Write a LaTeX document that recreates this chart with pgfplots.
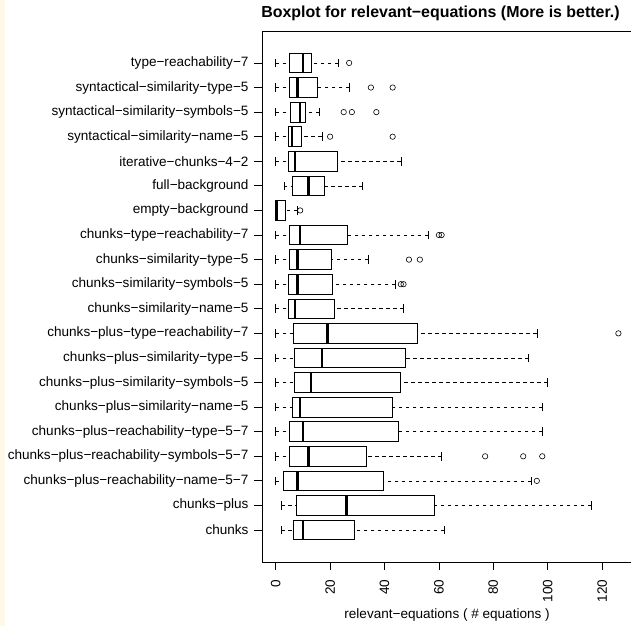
\documentclass[border=0pt]{standalone}
\usepackage{fontspec}
\setmainfont{Liberation Sans}
\usepackage{pgfplots}
\pgfplotsset{compat=1.18}
\usepgfplotslibrary{statistics}
\definecolor{cream}{RGB}{255,248,231}
\pgfplotsset{
  boxplot/draw/lower whisker/.code={%
    \draw[draw=black, line width=0.6bp, dash pattern=on 3.5bp off 3.5bp]
      (boxplot cs:\pgfplotsboxplotvalue{lower whisker})
      -- (boxplot cs:\pgfplotsboxplotvalue{lower quartile});
    \draw[draw=black, solid, line width=0.6bp]
      (boxplot whisker cs:\pgfplotsboxplotvalue{lower whisker},0)
      -- (boxplot whisker cs:\pgfplotsboxplotvalue{lower whisker},1);
  },
  boxplot/draw/upper whisker/.code={%
    \draw[draw=black, line width=0.6bp, dash pattern=on 3.5bp off 3.5bp]
      (boxplot cs:\pgfplotsboxplotvalue{upper whisker})
      -- (boxplot cs:\pgfplotsboxplotvalue{upper quartile});
    \draw[draw=black, solid, line width=0.6bp]
      (boxplot whisker cs:\pgfplotsboxplotvalue{upper whisker},0)
      -- (boxplot whisker cs:\pgfplotsboxplotvalue{upper whisker},1);
  },
  rbox/.style={
    black, solid, line width=0.75bp,
    mark=o, mark size=2.7bp,
    mark options={solid, line width=0.6bp, black, fill=none},
    boxplot/box extend=0.8,
    boxplot/whisker extend=0.35,
    boxplot/every box/.style={draw=black, line width=0.75bp, fill=white},
    boxplot/every median/.style={draw=black, line width=2.4bp},
  },
}
\begin{document}
\begin{tikzpicture}[x=1bp,y=1bp]
\path[use as bounding box] (0,0) rectangle (631,626);
\fill[cream] (0,0) rectangle (5,626);
\node[font=\bfseries\fontsize{16}{18}\selectfont] at (440.5,613) {Boxplot for relevant−equations (More is better.)};
\begin{axis}[
  at={(262bp,64bp)}, anchor=south west,
  scale only axis, width=370.1bp, height=531bp,
  xmin=-5.04, xmax=131.04, ymin=-0.3, ymax=21.3,
  axis line style={black, line width=0.75bp},
  clip=false,
  tick align=outside, major tick length=8bp,
  tick style={black, line width=0.75bp},
  xtick={0,20,...,120},
  ytick={1,...,20},
  xtick pos=bottom, ytick pos=left,
  yticklabels={chunks, chunks−plus, chunks−plus−reachability−name−5−7, chunks−plus−reachability−symbols−5−7, chunks−plus−reachability−type−5−7, chunks−plus−similarity−name−5, chunks−plus−similarity−symbols−5, chunks−plus−similarity−type−5, chunks−plus−type−reachability−7, chunks−similarity−name−5, chunks−similarity−symbols−5, chunks−similarity−type−5, chunks−type−reachability−7, empty−background, full−background, iterative−chunks−4−2, syntactical−similarity−name−5, syntactical−similarity−symbols−5, syntactical−similarity−type−5, type−reachability−7},
  /pgf/number format/assume math mode=true,
  tick label style={font=\fontsize{13.6}{15}\selectfont},
  xticklabel style={rotate=90, anchor=east},
  yticklabel style={anchor=east},
  xticklabel shift=6bp,
  yticklabel shift=2bp,
  xlabel={relevant−equations ( \# equations )},
  xlabel style={font=\fontsize{13.6}{15}\selectfont},
]
\addplot[rbox, boxplot prepared={draw position=1, lower whisker=2, lower quartile=6.5, median=10, upper quartile=29, upper whisker=62}] coordinates {};
\addplot[rbox, boxplot prepared={draw position=2, lower whisker=2, lower quartile=7.5, median=26, upper quartile=58.5, upper whisker=116}] coordinates {};
\addplot[rbox, boxplot prepared={draw position=3, lower whisker=0, lower quartile=3, median=8, upper quartile=39.5, upper whisker=94}] coordinates {(0,96)};
\addplot[rbox, boxplot prepared={draw position=4, lower whisker=0, lower quartile=5, median=12, upper quartile=33.5, upper whisker=61}] coordinates {(0,77) (0,91) (0,98)};
\addplot[rbox, boxplot prepared={draw position=5, lower whisker=0, lower quartile=5, median=10, upper quartile=45, upper whisker=98}] coordinates {};
\addplot[rbox, boxplot prepared={draw position=6, lower whisker=0, lower quartile=6, median=9, upper quartile=43, upper whisker=98}] coordinates {};
\addplot[rbox, boxplot prepared={draw position=7, lower whisker=0, lower quartile=7, median=13, upper quartile=46, upper whisker=100}] coordinates {};
\addplot[rbox, boxplot prepared={draw position=8, lower whisker=0, lower quartile=7, median=17, upper quartile=47.5, upper whisker=93}] coordinates {};
\addplot[rbox, boxplot prepared={draw position=9, lower whisker=0, lower quartile=6.5, median=19, upper quartile=52, upper whisker=96}] coordinates {(0,126)};
\addplot[rbox, boxplot prepared={draw position=10, lower whisker=0, lower quartile=4.5, median=7, upper quartile=21.5, upper whisker=47}] coordinates {};
\addplot[rbox, boxplot prepared={draw position=11, lower whisker=0, lower quartile=4.5, median=8, upper quartile=21, upper whisker=44}] coordinates {(0,46) (0,47)};
\addplot[rbox, boxplot prepared={draw position=12, lower whisker=0, lower quartile=5, median=8, upper quartile=20.5, upper whisker=34}] coordinates {(0,49) (0,53)};
\addplot[rbox, boxplot prepared={draw position=13, lower whisker=0, lower quartile=5, median=9, upper quartile=26.5, upper whisker=56}] coordinates {(0,60) (0,61)};
\addplot[rbox, boxplot prepared={draw position=14, lower whisker=0, lower quartile=0, median=0.5, upper quartile=3.5, upper whisker=8}] coordinates {(0,9)};
\addplot[rbox, boxplot prepared={draw position=15, lower whisker=3, lower quartile=6, median=12, upper quartile=18, upper whisker=32}] coordinates {};
\addplot[rbox, boxplot prepared={draw position=16, lower whisker=0, lower quartile=4.5, median=7, upper quartile=22.5, upper whisker=46}] coordinates {};
\addplot[rbox, boxplot prepared={draw position=17, lower whisker=0, lower quartile=4.5, median=6, upper quartile=9.5, upper whisker=17}] coordinates {(0,20) (0,43)};
\addplot[rbox, boxplot prepared={draw position=18, lower whisker=0, lower quartile=5.5, median=9, upper quartile=11, upper whisker=16}] coordinates {(0,25) (0,28) (0,37)};
\addplot[rbox, boxplot prepared={draw position=19, lower whisker=0, lower quartile=5, median=8, upper quartile=15.5, upper whisker=27}] coordinates {(0,35) (0,43)};
\addplot[rbox, boxplot prepared={draw position=20, lower whisker=0, lower quartile=5, median=10, upper quartile=13, upper whisker=23}] coordinates {(0,27)};
\end{axis}
\end{tikzpicture}
\end{document}
